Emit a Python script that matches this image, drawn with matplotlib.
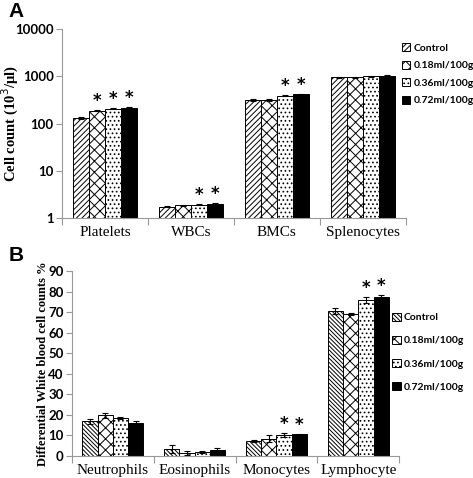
import matplotlib.pyplot as plt
import numpy as np

plt.rcParams['hatch.linewidth'] = 0.7

groups = ["Control", "0.18ml/100g", "0.36ml/100g", "0.72ml/100g"]

# panel A: cell counts (10^3/ul), log scale
cats_a = ["Platelets", "WBCs", "BMCs", "Splenocytes"]
vals_a = [[132, 1.72, 315, 960],
          [188, 1.85, 322, 960],
          [208, 1.90, 392, 1000],
          [218, 2.00, 415, 1040]]
err_a = [[6, 0.04, 18, 30],
         [5, 0.03, 14, 25],
         [5, 0.03, 10, 25],
         [5, 0.03, 12, 25]]
star_a = [[0, 0, 0, 0],
          [1, 0, 0, 0],
          [1, 1, 1, 0],
          [1, 1, 1, 0]]

# panel B: differential WBC counts %
cats_b = ["Neutrophils", "Eosinophils", "Monocytes", "Lymphocyte"]
vals_b = [[16.8, 3.5, 7.3, 70.5],
          [19.8, 1.5, 8.5, 69.3],
          [18.5, 2.0, 10.3, 75.8],
          [16.0, 2.7, 10.5, 77.5]]
err_b = [[1.3, 1.8, 0.3, 1.5],
         [1.3, 1.0, 1.5, 0.5],
         [0.6, 0.4, 1.0, 1.5],
         [1.2, 1.2, 0.4, 1.0]]
star_b = [[0, 0, 0, 0],
          [0, 0, 0, 0],
          [0, 0, 1, 1],
          [0, 0, 1, 1]]

hatches_a = ['//////', 'xxx', '....', '']
hatches_b = ['\\\\\\\\\\\\\\\\', 'xxx', '....', '']
faces = ['white', 'white', 'white', 'black']

fig = plt.figure(figsize=(4.73, 4.78), dpi=100)
ax1 = fig.add_axes([0.131, 0.544, 0.727, 0.395])
ax2 = fig.add_axes([0.152, 0.046, 0.692, 0.387])

w = 0.186
x = np.arange(4) + 0.5
serif = 'Liberation Serif'
sans = 'Lato'


def draw(ax, vals, errs, stars, cats, hatches):
    handles = []
    for j in range(4):
        pos = x + (j - 1.5) * w
        b = ax.bar(pos, vals[j], w, color=faces[j], edgecolor='black',
                   hatch=hatches[j], linewidth=0.7, label=groups[j])
        ax.errorbar(pos, vals[j], yerr=errs[j], fmt='none', ecolor='black',
                    elinewidth=0.8, capsize=2.5, capthick=0.8)
        handles.append(b)
        for i in range(4):
            if stars[j][i]:
                ax.annotate('*', (pos[i], vals[j][i] + errs[j][i]),
                            xytext=(0, 0), textcoords='offset points',
                            ha='center', va='bottom', fontsize=12,
                            fontweight='bold', family='DejaVu Sans')
    ax.set_xlim(0, 4)
    ax.set_xticks([0, 1, 2, 3, 4])
    ax.set_xticklabels([])
    ax.set_xticks(x, minor=True)
    ax.set_xticklabels(cats, minor=True, family=serif, fontsize=11)
    ax.tick_params(axis='x', which='minor', length=0, pad=6)
    ax.tick_params(axis='x', which='major', length=5, color='#999999', direction='out')
    ax.tick_params(axis='y', length=4, color='#999999', labelsize=9.5, pad=2)
    for s in ['top', 'right']:
        ax.spines[s].set_visible(False)
    for s in ['left', 'bottom']:
        ax.spines[s].set_color('#999999')
    return handles


h1 = draw(ax1, vals_a, err_a, star_a, cats_a, hatches_a)
ax1.set_yscale('log')
ax1.set_ylim(1, 10000)
ax1.set_yticks([1, 10, 100, 1000, 10000])
ax1.set_yticklabels(['1', '10', '100', '1000', '10000'], family=sans, fontweight='bold')
ax1.minorticks_off()
ax1.set_xticks(x, minor=True)
ax1.set_xticklabels(cats_a, minor=True, family=serif, fontsize=11)
ax1.tick_params(axis='x', which='minor', length=0, pad=6)
ax1.set_ylabel('Cell count (10$^3$/µl)', family=serif, fontweight='bold', fontsize=10.5)
ax1.yaxis.set_label_coords(-0.12, 0.5)
ax1.legend(handles=h1, loc='upper left', bbox_to_anchor=(0.977, 0.947), frameon=False,
           prop={'family': sans, 'size': 7.5, 'weight': 'bold'}, borderaxespad=0,
           handlelength=0.8, handleheight=0.8, handletextpad=0.3, labelspacing=0.75)

h2 = draw(ax2, vals_b, err_b, star_b, cats_b, hatches_b)
ax2.set_ylim(0, 90)
ax2.set_yticks(range(0, 91, 10))
ax2.set_yticklabels([str(v) for v in range(0, 91, 10)], family=sans, fontweight='bold')
ax2.set_ylabel('Differential White blood cell counts %', family=serif, fontweight='bold',
               fontsize=9)
ax2.yaxis.set_label_coords(-0.07, 0.5)
ax2.legend(handles=h2, loc='upper left', bbox_to_anchor=(0.966, 0.797), frameon=False,
           prop={'family': sans, 'size': 7.5, 'weight': 'bold'}, borderaxespad=0,
           handlelength=0.8, handleheight=0.8, handletextpad=0.3, labelspacing=1.3)

fig.text(0.018, 0.975, 'A', family='Liberation Sans', fontweight='bold', fontsize=15, va='center')
fig.text(0.018, 0.465, 'B', family='Liberation Sans', fontweight='bold', fontsize=15, va='center')

fig.savefig('out.png', dpi=100)
